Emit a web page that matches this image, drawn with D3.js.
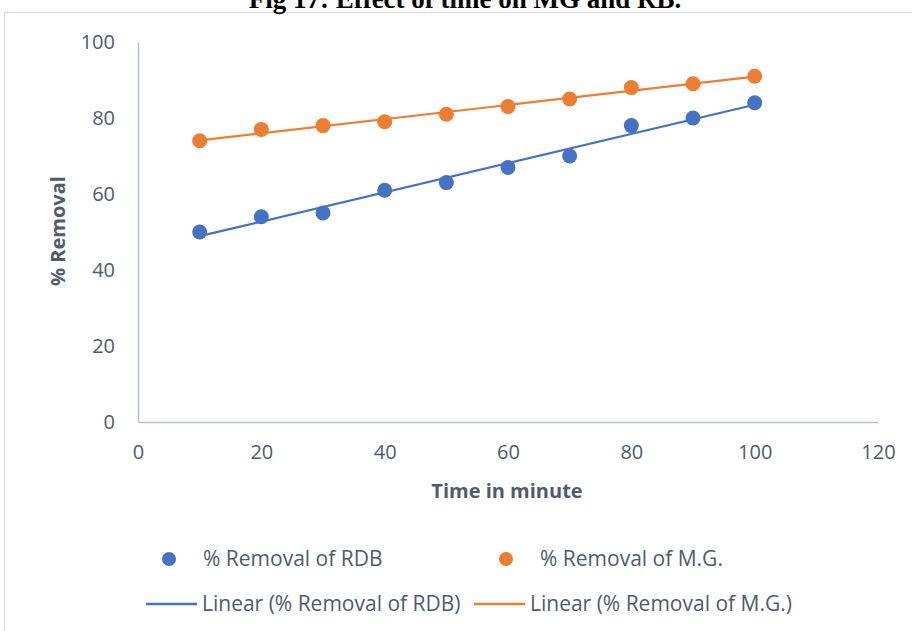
<!DOCTYPE html>
<html><head><meta charset="utf-8">
<script src="https://cdn.jsdelivr.net/npm/d3@7"></script>
<style>body{margin:0;background:#fff}svg{display:block}</style>
</head><body>
<svg id="c" width="912" height="631"></svg>
<script>
const times = [10,20,30,40,50,60,70,80,90,100];
const rdb = [50,54,55,61,63,67,70,78,80,84];
const mg = [74,77,78,79,81,83,85,88,89,91];
const xTicks = [0,20,40,60,80,100,120];
const yTicks = [0,20,40,60,80,100];
const seriesNames = ["% Removal of RDB","% Removal of M.G."];
const trendNames = ["Linear (% Removal of RDB)","Linear (% Removal of M.G.)"];
const colors = ["#4472C4","#ED7D31"];

const svg = d3.select("#c");
const x = d3.scaleLinear().domain([0,120]).range([138,878]);
const y = d3.scaleLinear().domain([0,100]).range([422,42]);
const font = "'Open Sans', sans-serif";
const tickCol = "#4f5b6e";

svg.append("rect").attr("x",4.5).attr("y",12.5).attr("width",940).attr("height",700)
  .attr("fill","none").attr("stroke","#d9dde3");

svg.append("text").attr("x",465).attr("y",8).attr("text-anchor","middle")
  .attr("font-family","'Liberation Serif', serif").attr("font-weight","bold").attr("font-size",27)
  .text("Fig 17: Effect of time on MG and RB.");

const axisCol = "#b4c0d3";
const xa = svg.append("g").attr("transform","translate(0,422)")
  .call(d3.axisBottom(x).tickValues(xTicks).tickSize(0).tickPadding(23));
const ya = svg.append("g").attr("transform","translate(138,0)")
  .call(d3.axisLeft(y).tickValues(yTicks).tickSize(0).tickPadding(23));
[xa,ya].forEach(a=>{
  a.select(".domain").attr("stroke",axisCol).attr("stroke-width",1.5);
  a.selectAll("text").attr("font-family",font).attr("font-size",20).attr("fill",tickCol);
});

svg.append("text").attr("x",507).attr("y",498).attr("text-anchor","middle")
  .attr("font-family",font).attr("font-weight","bold").attr("font-size",20).attr("fill",tickCol)
  .text("Time in minute");
svg.append("text").attr("transform","translate(65,231) rotate(-90)").attr("text-anchor","middle")
  .attr("font-family",font).attr("font-weight","bold").attr("font-size",20).attr("fill",tickCol)
  .text("% Removal");

function fit(xs, ys){
  const mx=d3.mean(xs), my=d3.mean(ys);
  const b=d3.sum(xs,(v,i)=>(v-mx)*(ys[i]-my))/d3.sum(xs,v=>(v-mx)*(v-mx));
  return {a:my-b*mx,b};
}
const all=[rdb,mg];
all.forEach((vals,k)=>{
  const f=fit(times,vals);
  const x0=d3.min(times), x1=d3.max(times);
  svg.append("line").attr("x1",x(x0)).attr("y1",y(f.a+f.b*x0)).attr("x2",x(x1)).attr("y2",y(f.a+f.b*x1))
    .attr("stroke",colors[k]).attr("stroke-width",2.2);
});
all.forEach((vals,k)=>{
  svg.append("g").selectAll("circle").data(vals).join("circle")
    .attr("cx",(d,i)=>x(times[i])).attr("cy",d=>y(d)).attr("r",7.5).attr("fill",colors[k]);
});

// legend
const lg = svg.append("g").attr("font-family",font).attr("font-size",21).attr("fill",tickCol);
const mPos=[169,506];
mPos.forEach((mx,k)=>{
  lg.append("circle").attr("cx",mx).attr("cy",559).attr("r",7).attr("fill",colors[k]);
  lg.append("text").attr("x",mx+34).attr("y",566).text(seriesNames[k]);
});
const lPos=[146,474];
lPos.forEach((lx,k)=>{
  lg.append("line").attr("x1",lx).attr("x2",lx+51).attr("y1",604).attr("y2",604).attr("stroke",colors[k]).attr("stroke-width",2.5);
  lg.append("text").attr("x",lx+56).attr("y",611).text(trendNames[k]);
});
</script>
</body></html>
